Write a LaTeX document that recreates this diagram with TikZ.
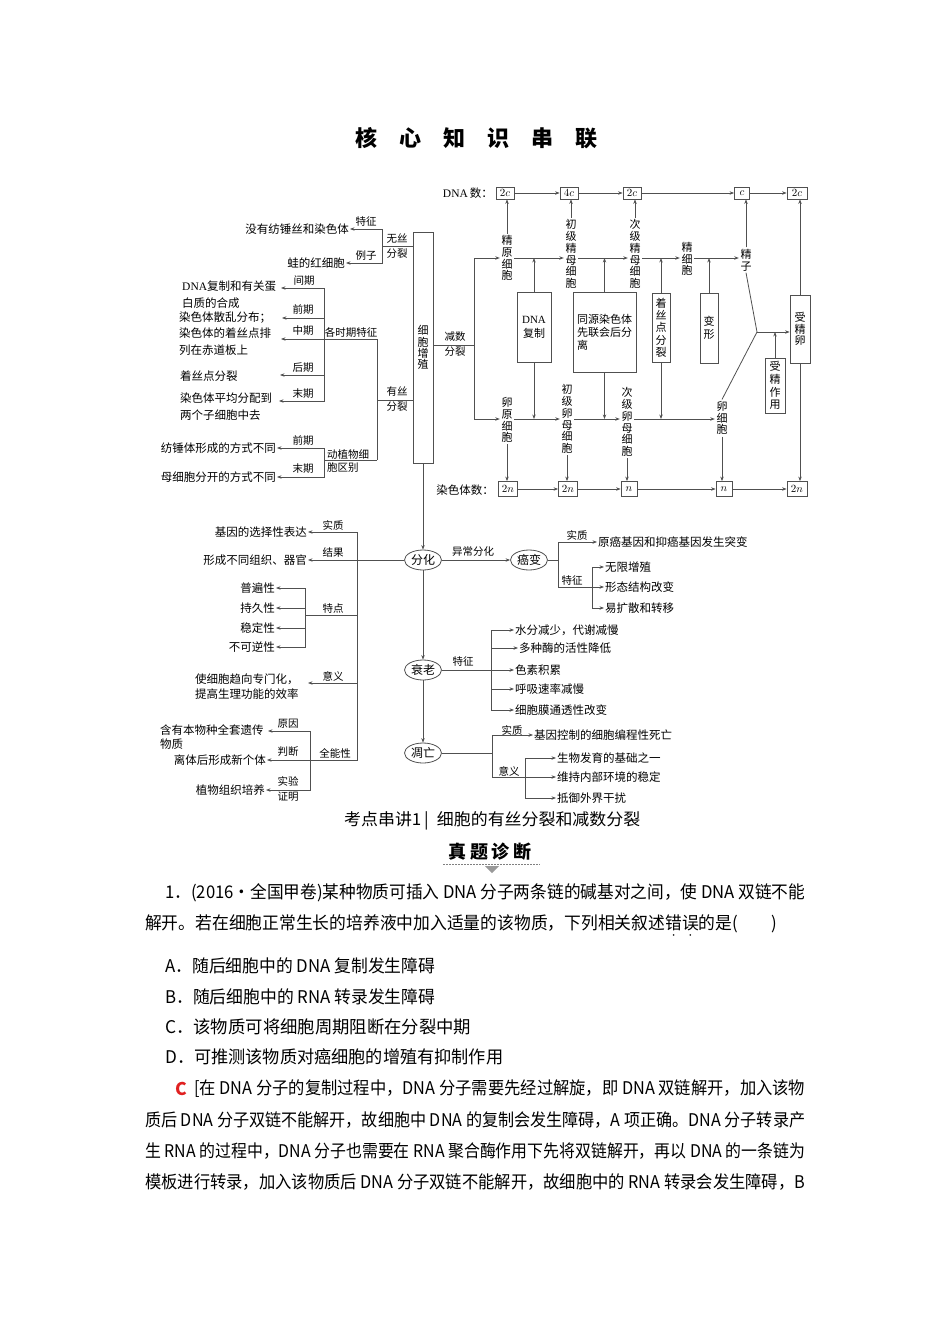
\documentclass[tikz,border=0pt]{standalone}
\usepackage{fontspec}
\usepackage{graphicx}
\setmainfont{Noto Sans CJK SC}
\newfontfamily\tms{Liberation Serif}
\usetikzlibrary{arrows.meta,shapes.geometric}
\definecolor{lc}{HTML}{505050}
\definecolor{ansred}{HTML}{E02020}
\newcommand\nolsk{\lineskiplimit -6pt\relax}
\newcommand\ezh[1]{\makebox[0pt][l]{\makebox[1em][c]{\raisebox{-9pt}{\fontsize{8}{8}\selectfont •}}}#1}
\tikzset{
  ln/.style={draw=lc, line width=0.8pt},
  arr/.style={draw=lc, line width=0.8pt, -{Stealth[length=4.5pt,width=3.4pt]}},
  txt/.style={font=\fontsize{11.5}{17}\selectfont, inner sep=1pt},
  lbl/.style={font=\fontsize{10.5}{11}\selectfont, inner sep=0pt},
  vt/.style={font=\fontsize{11}{11.8}\selectfont\nolsk, align=center, inner sep=1.5pt},
  pbox/.style={draw=lc, line width=0.8pt, inner sep=0pt, font=\fontsize{11}{12.3}\selectfont\nolsk, align=center},
  numt/.style={draw=lc, line width=0.8pt, minimum width=18pt, minimum height=12pt, inner sep=0pt, font=\fontsize{11}{11}\selectfont},
  numb/.style={draw=lc, line width=0.8pt, minimum width=19pt, minimum height=15pt, inner sep=0pt, font=\fontsize{11}{11}\selectfont},
  ell/.style={ellipse, draw=lc, line width=0.8pt, minimum width=37pt, minimum height=20pt, inner sep=0pt, font=\fontsize{12}{12}\selectfont},
  body/.style={anchor=west, inner sep=0pt, font=\fontsize{17.5}{20}\selectfont},
}
\begin{document}
\begin{tikzpicture}[x=1pt,y=-1pt]
\fill[white] (0,0) rectangle (950,1344);
\useasboundingbox (0,0) rectangle (950,1344);

% ---------- title
\node[font=\fontsize{22}{22}\selectfont\bfseries, inner sep=0pt] (title) at (476,138)
  {核\hspace{22pt}心\hspace{22pt}知\hspace{22pt}识\hspace{22pt}串\hspace{22pt}联};

% ---------- cell proliferation box
\node[pbox, minimum width=20pt, minimum height=231pt, font=\fontsize{11}{11.2}\selectfont\nolsk] (zz) at (423,347.5) {细\\胞\\增\\殖};

% ---------- amitosis
\coordinate (wsj) at (382,246);
\node[txt, anchor=east] (w1) at (350,229) {没有纺锤丝和染色体};
\node[txt, anchor=east] (w2) at (346,263) {蛙的红细胞};
\draw[ln] (zz.west |- wsj) -- (wsj);
\draw[arr] (wsj) |- (w1.east);
\draw[arr] (wsj) |- (w2.east);
\node[lbl] (La1) at (366,222) {特征};
\node[lbl] (La2) at (366,256) {例子};
\node[lbl] (La3) at (397,239) {无丝};
\node[lbl] (La4) at (397,254) {分裂};

% ---------- mitosis
\coordinate (ysj) at (377,400);
\coordinate (sqj) at (377,339);
\coordinate (dzj) at (377,460);
\coordinate (phj) at (324,339);
\coordinate (dzb) at (324,460);
\draw[ln] (zz.west |- ysj) -- (ysj);
\draw[ln] (sqj) -- (dzj);
\draw[ln] (dzj) -- (dzb);
\node[lbl] (Lb1) at (397,391) {有丝};
\node[lbl] (Lb2) at (397,407) {分裂};
\node[lbl] (Lb3) at (351,332) {各时期特征};
\node[lbl, anchor=west] (Lb4) at (327,454) {动植物细};
\node[lbl, anchor=west] (Lb5) at (327,468) {胞区别};

\node[txt, anchor=west, align=left] (p1) at (181,294.5) {{\tms DNA}复制和有关蛋\\白质的合成};
\coordinate (p1a) at (281,288);
\node[txt, anchor=west] (p2) at (178,318) {染色体散乱分布；};
\coordinate (p2a) at (282,318);
\node[txt, anchor=west, align=left] (p3) at (178,342) {染色体的着丝点排\\列在赤道板上};
\coordinate (p3a) at (281,339);
\node[txt, anchor=west] (p4) at (179,376) {着丝点分裂};
\coordinate (p4a) at (280,375);
\node[txt, anchor=west, align=left] (p5) at (179,406.5) {染色体平均分配到\\两个子细胞中去};
\coordinate (p5a) at (279,401);
\draw[arr] (phj) |- (p1a);
\draw[arr] (phj) |- (p2a);
\draw[arr] (sqj) -- (p3a);
\draw[arr] (phj) |- (p4a);
\draw[arr] (phj) |- (p5a);
\node[lbl] (Lp1) at (304,281) {间期};
\node[lbl] (Lp2) at (303,310) {前期};
\node[lbl] (Lp3) at (303,331) {中期};
\node[lbl] (Lp4) at (303,368) {后期};
\node[lbl] (Lp5) at (303,394) {末期};

\node[txt, anchor=east] (q1) at (277,448) {纺锤体形成的方式不同};
\node[txt, anchor=east] (q2) at (277,477) {母细胞分开的方式不同};
\draw[arr] (dzb) |- (q1.east);
\draw[arr] (dzb) |- (q2.east);
\node[lbl] (Lq1) at (303,440) {前期};
\node[lbl] (Lq2) at (303,469) {末期};

% ---------- differentiation
\node[ell] (fh) at (423,560) {分化};
\draw[arr] (zz.south) -- (fh.north);
\coordinate (fj) at (357,560);
\node[txt, anchor=east] (f1) at (308,532) {基因的选择性表达};
\node[txt, anchor=east] (f2) at (308,560) {形成不同组织、器官};
\draw[arr] (fh.west) -- (f2.east);
\draw[arr] (fj) |- (f1.east);
\coordinate (tdj) at (305,615);
\draw[ln] (fj) |- (tdj);
\node[txt, anchor=east] (g1) at (276,588) {普遍性};
\node[txt, anchor=east] (g2) at (276,608) {持久性};
\node[txt, anchor=east] (g3) at (276,628) {稳定性};
\node[txt, anchor=east] (g4) at (276,647) {不可逆性};
\draw[arr] (tdj) |- (g1.east);
\draw[arr] (tdj) |- (g2.east);
\draw[arr] (tdj) |- (g3.east);
\draw[arr] (tdj) |- (g4.east);
\node[txt, anchor=west, align=left, font=\fontsize{11.5}{15}\selectfont] (yy) at (194,686.5) {使细胞趋向专门化，\\提高生理功能的效率};
\coordinate (yya) at (308,683);
\draw[arr] (fj) |- (yya);
\coordinate (qnj) at (310,760);
\draw[ln] (fj) |- (qnj);
\node[txt, anchor=west, align=left, font=\fontsize{11.5}{14}\selectfont] (h1) at (159,737) {含有本物种全套遗传\\物质};
\coordinate (h1a) at (268,731);
\node[txt, anchor=east] (h2) at (267,760) {离体后形成新个体};
\node[txt, anchor=east] (h3) at (266,790) {植物组织培养};
\draw[arr] (qnj) |- (h1a);
\draw[arr] (qnj) |- (h2.east);
\draw[arr] (qnj) |- (h3.east);
\node[lbl] (Lf1) at (333,525) {实质};
\node[lbl] (Lf2) at (333,552) {结果};
\node[lbl] (Lf3) at (333,608) {特点};
\node[lbl] (Lf4) at (333,676) {意义};
\node[lbl] (Lf5) at (335,753) {全能性};
\node[lbl] (Lf6) at (288,724) {原因};
\node[lbl] (Lf7) at (288,752) {判断};
\node[lbl] (Lf8) at (288,781) {实验};
\node[lbl] (Lf9) at (288,797) {证明};

% ---------- cancer
\node[ell] (ab) at (529,560) {癌变};
\draw[arr] (fh.east) -- (ab.west);
\node[lbl] (Lc0) at (473,552) {异常分化};
\coordinate (abj) at (558,560);
\draw[ln] (ab.east) -- (abj);
\node[txt, anchor=west] (c1) at (597,542) {原癌基因和抑癌基因发生突变};
\draw[arr] (abj) |- (c1.west);
\coordinate (tzj) at (592,587);
\draw[ln] (abj) |- (tzj);
\node[txt, anchor=west] (c2) at (604,567) {无限增殖};
\node[txt, anchor=west] (c3) at (604,587) {形态结构改变};
\node[txt, anchor=west] (c4) at (604,608) {易扩散和转移};
\draw[arr] (tzj) |- (c2.west);
\draw[arr] (tzj) |- (c3.west);
\draw[arr] (tzj) |- (c4.west);
\node[lbl] (Lc1) at (577,535) {实质};
\node[lbl] (Lc2) at (572,580) {特征};

% ---------- senescence
\node[ell] (sl) at (423,670) {衰老};
\draw[arr] (fh.south) -- (sl.north);
\coordinate (slj) at (491,670);
\draw[ln] (sl.east) -- (slj);
\node[txt, anchor=west] (d1) at (514,630) {水分减少，代谢减慢};
\node[txt, anchor=west] (d2) at (518,648) {多种酶的活性降低};
\node[txt, anchor=west] (d3) at (514,670) {色素积累};
\node[txt, anchor=west] (d4) at (514,689) {呼吸速率减慢};
\node[txt, anchor=west] (d5) at (514,710) {细胞膜通透性改变};
\draw[arr] (slj) |- (d1.west);
\draw[arr] (slj) |- (d2.west);
\draw[arr] (slj) |- (d3.west);
\draw[arr] (slj) |- (d4.west);
\draw[arr] (slj) |- (d5.west);
\node[lbl] (Ld1) at (463,661) {特征};

% ---------- apoptosis
\node[ell] (dw) at (423,753) {凋亡};
\draw[arr] (sl.south) -- (dw.north);
\coordinate (dwj) at (492,753);
\draw[ln] (dw.east) -- (dwj);
\node[txt, anchor=west] (e1) at (533,735) {基因控制的细胞编程性死亡};
\draw[arr] (dwj) |- (e1.west);
\coordinate (yyj) at (525,777);
\draw[ln] (dwj) |- (yyj);
\node[txt, anchor=west] (e2) at (556,758) {生物发育的基础之一};
\node[txt, anchor=west] (e3) at (556,777) {维持内部环境的稳定};
\node[txt, anchor=west] (e4) at (556,798) {抵御外界干扰};
\draw[arr] (yyj) |- (e2.west);
\draw[arr] (yyj) |- (e3.west);
\draw[arr] (yyj) |- (e4.west);
\node[lbl] (Le1) at (512,730) {实质};
\node[lbl] (Le2) at (509,771) {意义};

% ---------- meiosis: DNA row
\node[txt, anchor=east] (dnal) at (494,193) {{\tms DNA}\,数：};
\node[numt] (b1) at (505,193) {$2c$};
\node[numt] (b2) at (569,193) {$4c$};
\node[numt] (b3) at (632,193) {$2c$};
\node[numt, minimum width=15pt] (b4) at (742,193) {$c$};
\node[numt, minimum width=20pt] (b5) at (797,193) {$2c$};
\draw[arr] (b1) -- (b2);
\draw[arr] (b2) -- (b3);
\draw[arr] (b3) -- (b4);
\draw[arr] (b4) -- (b5);

% chromosome row
\node[txt, anchor=east] (rsl) at (495,490) {染色体数：};
\node[numb] (n1) at (508,489) {$2n$};
\node[numb] (n2) at (568,489) {$2n$};
\node[numb, minimum width=16pt] (n3) at (629,489) {$n$};
\node[numb, minimum width=16pt] (n4) at (724,489) {$n$};
\node[numb, minimum width=20pt] (n5) at (797,489) {$2n$};
\draw[arr] (n1) -- (n2);
\draw[arr] (n2) -- (n3);
\draw[arr] (n3) -- (n4);
\draw[arr] (n4) -- (n5);

% cell stages
\node[vt] (jy) at (507,258) {精\\原\\细\\胞};
\node[vt] (cj) at (571,254) {初\\级\\精\\母\\细\\胞};
\node[vt] (cjj) at (635,254) {次\\级\\精\\母\\细\\胞};
\node[vt] (jxb) at (687,259) {精\\细\\胞};
\node[vt] (jz) at (746,260) {精\\子};
\node[vt] (ly) at (507,420) {卵\\原\\细\\胞};
\node[vt] (cl) at (567,419) {初\\级\\卵\\母\\细\\胞};
\node[vt] (clj) at (627,422) {次\\级\\卵\\母\\细\\胞};
\node[vt] (lxb) at (722,418) {卵\\细\\胞};

% process boxes
\node[pbox, minimum width=34pt, minimum height=70pt, font=\fontsize{11}{14}\selectfont] (dnafz) at (534,327) {{\tms DNA}\\复制};
\node[pbox, minimum width=63pt, minimum height=80pt, align=left, font=\fontsize{11}{13}\selectfont] (tyrs) at (604.5,332) {同源染色体\\先联会后分\\离};
\node[pbox, minimum width=18pt, minimum height=69pt] (zsd) at (661,327.5) {着\\丝\\点\\分\\裂};
\node[pbox, minimum width=18pt, minimum height=70pt, font=\fontsize{11}{13}\selectfont] (bx) at (709,328) {变\\形};
\node[pbox, minimum width=20pt, minimum height=55pt, font=\fontsize{11}{12.7}\selectfont\nolsk] (szzy) at (775,385.5) {受\\精\\作\\用};
\node[pbox, minimum width=20pt, minimum height=68pt, font=\fontsize{11}{11.8}\selectfont\nolsk] (sjl) at (800,329) {受\\精\\卵};

% branch from proliferation box
\coordinate (jsj) at (474,345);
\coordinate (jL) at (474,258);
\coordinate (lL) at (474,419);
\draw[ln] (zz.east |- jsj) -- (jsj);
\draw[ln] (jL) -- (lL);
\node[lbl] (Lm1) at (455,337) {减数};
\node[lbl] (Lm2) at (455,352) {分裂};

% sperm line
\draw[arr] (jL) -- (jy.west |- jL);
\draw[arr] (jy.east |- jL) -- (cj.west |- jL);
\draw[arr] (cj.east |- jL) -- (cjj.west |- jL);
\draw[arr] (cjj.east |- jL) -- (jxb.west |- jL);
\draw[arr] (jxb.east |- jL) -- (jz.west |- jL);
\draw[arr] (dnafz.north) -- (dnafz.north |- jL);
\draw[arr] (tyrs.north) -- (tyrs.north |- jL);
\draw[arr] (zsd.north) -- (zsd.north |- jL);
\draw[arr] (bx.north) -- (bx.north |- jL);

% egg line
\draw[arr] (lL) -- (ly.west |- lL);
\draw[arr] (ly.east |- lL) -- (cl.west |- lL);
\draw[arr] (cl.east |- lL) -- (clj.west |- lL);
\draw[arr] (clj.east |- lL) -- (lxb.west |- lL);
\draw[arr] (dnafz.south) -- (dnafz.south |- lL);
\draw[arr] (tyrs.south) -- (tyrs.south |- lL);
\draw[arr] (zsd.south) -- (zsd.south |- lL);

% up to DNA row
\draw[arr] (jy.north) -- (jy.north |- b1.south);
\draw[arr] (cj.north) -- (cj.north |- b2.south);
\draw[arr] (cjj.north) -- (cjj.north |- b3.south);
\draw[arr] (jz.north) -- (jz.north |- b4.south);
\draw[arr] (sjl.north) -- (sjl.north |- b5.south);

% down to chromosome row
\draw[arr] (ly.south) -- (ly.south |- n1.north);
\draw[arr] (cl.south) -- (cl.south |- n2.north);
\draw[arr] (clj.south) -- (clj.south |- n3.north);
\draw[arr] (lxb.south) -- (lxb.south |- n4.north);
\draw[arr] (sjl.south) -- (sjl.south |- n5.north);

% fertilisation
\coordinate (fm) at (757,332);
\draw[ln] (jz.south) -- (fm);
\draw[ln] (lxb.north) -- (fm);
\draw[arr] (fm) -- (sjl.west |- fm);
\draw[arr] (szzy.north) -- (szzy.north |- fm);

% ---------- section heading
\node[anchor=west, inner sep=0pt, font=\fontsize{16.5}{18}\selectfont] (kd) at (344,821)
  {\resizebox{296pt}{\height}{考点串讲1\,|\hspace{8pt}细胞的有丝分裂和减数分裂}};
\node[font=\fontsize{18}{18}\selectfont\bfseries, inner sep=0pt] (ztzd) at (490,852)
  {真\hspace{4pt}题\hspace{4pt}诊\hspace{4pt}断};
\draw[gray, line width=0.6pt, dash pattern=on 1.5pt off 1.5pt] (443,864) -- (540,864);
\fill[gray!80] (485,866) -- (499,866) -- (492,873) -- cycle;

% ---------- question text
\node[body] (t1) at (165,893) {\resizebox{640pt}{\height}{1．(2016·全国甲卷)某种物质可插入 DNA 分子两条链的碱基对之间，使 DNA 双链不能}};
\node[body] (t2) at (145,927) {\resizebox{632pt}{\height}{解开。若在细胞正常生长的培养液中加入适量的该物质，下列相关叙述\ezh{错}\ezh{误}的是(　　)}};
\node[body] (ta) at (165,966) {\resizebox{270pt}{\height}{A．随后细胞中的 DNA 复制发生障碍}};
\node[body] (tb) at (165,997) {\resizebox{270pt}{\height}{B．随后细胞中的 RNA 转录发生障碍}};
\node[body] (tc) at (165,1027) {\resizebox{306pt}{\height}{C．该物质可将细胞周期阻断在分裂中期}};
\node[body] (td) at (165,1057) {\resizebox{338pt}{\height}{D．可推测该物质对癌细胞的增殖有抑制作用}};
\node[body, anchor=center, text=ansred, font=\fontsize{17.5}{20}\selectfont\bfseries] (ansc) at (181,1089) {C};
\node[body] (m1) at (194,1089) {\resizebox{611pt}{\height}{[在 DNA 分子的复制过程中，DNA 分子需要先经过解旋，即 DNA 双链解开，加入该物}};
\node[body] (m2) at (145,1120) {\resizebox{660pt}{\height}{质后 DNA 分子双链不能解开，故细胞中 DNA 的复制会发生障碍，A 项正确。DNA 分子转录产}};
\node[body] (m3) at (145,1151) {\resizebox{660pt}{\height}{生 RNA 的过程中，DNA 分子也需要在 RNA 聚合酶作用下先将双链解开，再以 DNA 的一条链为}};
\node[body] (m4) at (145,1182) {\resizebox{660pt}{\height}{模板进行转录，加入该物质后 DNA 分子双链不能解开，故细胞中的 RNA 转录会发生障碍，B}};
\end{tikzpicture}
\end{document}
